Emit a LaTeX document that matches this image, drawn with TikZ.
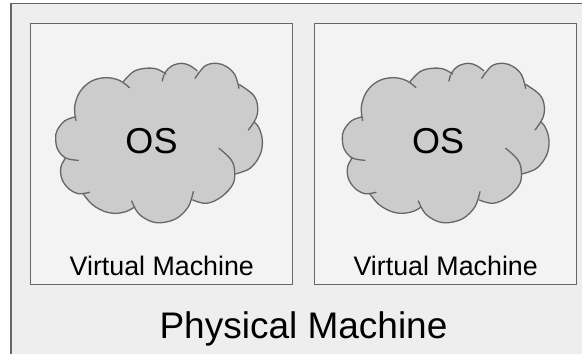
\documentclass[tikz,border=0pt]{standalone}
\usepackage{fontspec}
\setmainfont{Liberation Sans}
\definecolor{outerfill}{HTML}{EEEEEE}
\definecolor{innerfill}{HTML}{F3F3F3}
\definecolor{cloudfill}{HTML}{CCCCCC}
\definecolor{edge}{HTML}{666666}
\newcommand{\cloudlobe}[1]{%
  \fill[lobefill] plot[smooth,tension=0.6] coordinates {#1};
  \draw[lobe] plot[smooth,tension=0.6] coordinates {#1};
}
\tikzset{
  boxstyle/.style={draw=edge,line width=1.3pt},
  lobe/.style={draw=edge,line width=1.3pt,line join=round,line cap=round},
  lobefill/.style={fill=cloudfill},
  txt/.style={inner sep=0pt,text=black,anchor=base},
  pics/cloudshape/.style={code={
    \begin{scope}[scale=1/3]
    \fill[lobefill] plot[smooth cycle,tension=0.6] coordinates {(222,350)(190,474)(250,582)(405,622)(578,600)(705,522)(755,362)(717,253)(590,215)(498,215)(370,245)};
    \cloudlobe{(228,350)(195,362)(172,390)(167,415)(173,448)(197,474)(235,481)}
    \cloudlobe{(197,474)(183,500)(185,535)(205,565)(235,581)(268,577)}
    \cloudlobe{(250,582)(275,612)(310,633)(345,640)(380,634)(405,620)}
    \cloudlobe{(395,603)(415,640)(450,663)(485,668)(530,655)(565,620)(580,575)}
    \cloudlobe{(578,600)(620,610)(665,590)(700,550)(703,505)(690,475)(657,445)}
    \cloudlobe{(705,522)(750,505)(780,465)(787,420)(775,380)(755,360)}
    \cloudlobe{(745,390)(768,355)(773,320)(760,285)(717,253)}
    \cloudlobe{(717,265)(705,225)(680,200)(650,190)(615,198)(585,235)}
    \cloudlobe{(592,213)(570,197)(545,190)(515,198)(495,218)(487,243)}
    \cloudlobe{(498,222)(470,207)(435,205)(400,215)(370,245)}
    \cloudlobe{(388,263)(360,242)(320,233)(275,243)(240,275)(224,320)(228,362)}
    \end{scope}
  }}
}
\begin{document}
\begin{tikzpicture}[x=1pt,y=-1pt]
\useasboundingbox (0,0) rectangle (582,354);
\fill[white] (0,0) rectangle (582,354);
\path[boxstyle,fill=outerfill] (11,3.5) rectangle (590,362);
\path[boxstyle,fill=innerfill] (30.7,23.3) rectangle (292.7,284.5);
\path[boxstyle,fill=innerfill] (314.5,23.3) rectangle (576.5,284.5);
\pic (cloudleft) at (0,0) {cloudshape};
\pic (cloudright) at (286.67,0) {cloudshape};
\node[txt,font=\fontsize{36}{40}\selectfont] (osleft) at (151.5,153.3) {OS};
\node[txt,font=\fontsize{36}{40}\selectfont] (osright) at (438.2,153.3) {OS};
\node[txt,font=\fontsize{26.8}{30}\selectfont] (vmleft) at (161.8,275) {Virtual Machine};
\node[txt,font=\fontsize{26.8}{30}\selectfont] (vmright) at (445.7,275) {Virtual Machine};
\node[txt,font=\fontsize{37}{42}\selectfont] (pm) at (303.5,338) {Physical Machine};
\end{tikzpicture}
\end{document}
